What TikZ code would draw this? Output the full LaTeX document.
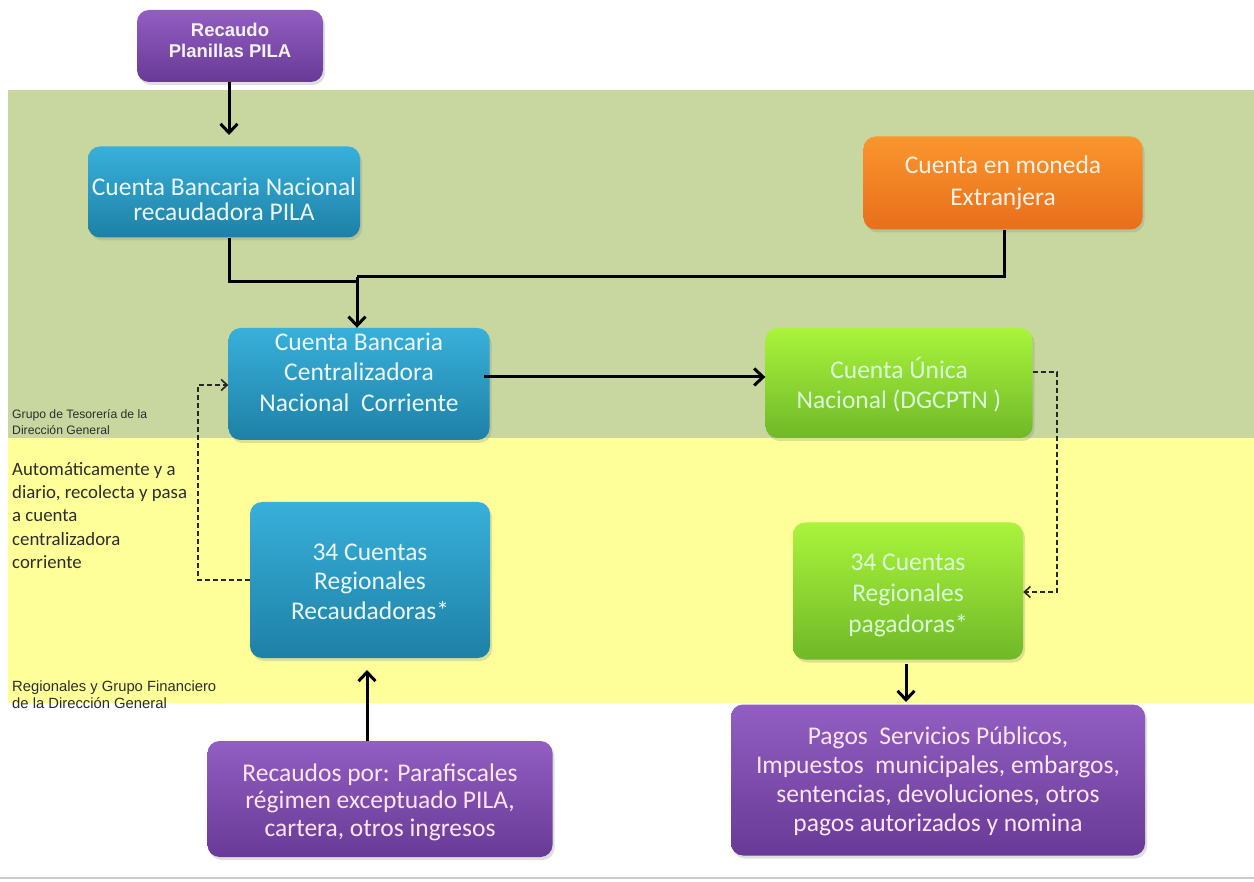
\documentclass[tikz,border=0pt]{standalone}
\usepackage{fontspec}
\setmainfont{Carlito}
\newfontfamily\arialf{Liberation Sans}
\usetikzlibrary{arrows.meta,shadows}
\definecolor{bandgreen}{RGB}{200,215,160}
\definecolor{bandyellow}{RGB}{255,255,153}
\definecolor{bluetop}{RGB}{56,176,218}
\definecolor{bluebot}{RGB}{30,128,166}
\definecolor{greentop}{RGB}{170,244,60}
\definecolor{greenbot}{RGB}{112,184,40}
\definecolor{orangetop}{RGB}{250,150,45}
\definecolor{orangebot}{RGB}{232,110,28}
\definecolor{purpletop}{RGB}{146,94,194}
\definecolor{purplebot}{RGB}{104,58,150}
\definecolor{labelgray}{RGB}{45,45,45}
\newcommand\boxtext[3]{\fontsize{25.5}{#2}\selectfont\raisebox{#1}[\height][\depth]{\begin{tabular}{@{}c@{}}#3\end{tabular}}}
\tikzset{
  x=1pt,y=-1pt,
  box/.style={rounded corners=12pt, inner sep=0pt,
    drop shadow={shadow xshift=2pt, shadow yshift=-3pt, opacity=0.25}},
  bluebox/.style={box, top color=bluetop, bottom color=bluebot, text=white!92!cyan},
  greenbox/.style={box, top color=greentop, bottom color=greenbot, text=white!85!green},
  orangebox/.style={box, top color=orangetop, bottom color=orangebot, text=white!90!orange},
  purplebox/.style={box, top color=purpletop, bottom color=purplebot, text=white!90!magenta},
  flow/.style={draw=black, line width=3pt, -{Straight Barb[length=9pt,width=17pt,line width=3pt]}},
  flowline/.style={draw=black, line width=3pt},
  dflow/.style={draw=black!85, line width=1.8pt, dash pattern=on 5pt off 3pt, -{Straight Barb[length=6pt,width=11pt,line width=1.6pt]}},
  sidelabel/.style={anchor=north west, align=left, text=labelgray, inner sep=0pt},
}
\begin{document}
\begin{tikzpicture}
\useasboundingbox (0,0) rectangle (1254,882);
\fill[white] (0,0) rectangle (1254,882);
% bands
\fill[bandgreen] (8,90) rectangle (1254,438);
\fill[bandyellow] (8,438) rectangle (1254,703);
\draw[black!20, line width=1.5pt] (0,878) -- (1254,878);

% nodes
\node[purplebox, minimum width=186pt, minimum height=72pt, text=white!95!black] (rec) at (230,46) {\arialf\bfseries\fontsize{18.5}{21}\selectfont\raisebox{3pt}[\height][\depth]{\begin{tabular}{@{}c@{}}Recaudo\\Planillas PILA\end{tabular}}};
\node[bluebox, minimum width=272pt, minimum height=91pt] (pila) at (224,192) {\boxtext{-11pt}{25}{Cuenta Bancaria Nacional\\recaudadora PILA}};
\node[orangebox, minimum width=279pt, minimum height=93pt] (ext) at (1003,183) {\boxtext{0pt}{32}{Cuenta en moneda\\Extranjera}};
\node[bluebox, minimum width=261pt, minimum height=112pt] (cen) at (359,384) {\boxtext{9.5pt}{30.5}{Cuenta Bancaria\\Centralizadora\\Nacional\ \ Corriente}};
\node[greenbox, minimum width=267pt, minimum height=110pt] (uni) at (899,383) {\boxtext{-4pt}{30}{Cuenta Única\\Nacional (DGCPTN )}};
\node[bluebox, minimum width=240pt, minimum height=156pt] (rr) at (370,580) {\boxtext{-4pt}{29.5}{34 Cuentas\\Regionales\\Recaudadoras*}};
\node[greenbox, minimum width=230pt, minimum height=137pt] (rp) at (908,591) {\boxtext{-4pt}{31}{34 Cuentas\\Regionales\\pagadoras*}};
\node[purplebox, minimum width=414pt, minimum height=151pt] (pagos) at (938,780) {\boxtext{-2pt}{29}{Pagos\ \ Servicios Públicos,\\Impuestos\ \ municipales, embargos,\\sentencias, devoluciones, otros\\pagos autorizados y nomina}};
\node[purplebox, minimum width=345pt, minimum height=116pt] (recs) at (380,799) {\boxtext{-4pt}{27.5}{Recaudos por: Parafiscales\\régimen exceptuado PILA,\\cartera, otros ingresos}};

% side labels
\node[sidelabel, font=\arialf\fontsize{12.2}{16.5}\selectfont] (lab1) at (12,409) {Grupo de Tesorería de la\\Dirección General};
\node[sidelabel, font=\fontsize{18.8}{23.3}\selectfont] (lab2) at (12,462) {Automáticamente y a\\diario, recolecta y pasa\\a cuenta\\centralizadora\\corriente};
\node[sidelabel, font=\arialf\fontsize{14.8}{17}\selectfont] (lab3) at (12,681) {Regionales y Grupo Financiero\\de la Dirección General};

% connectors
\coordinate (j) at (357,280);
\coordinate (jl) at (229,282);
\coordinate (jr) at (1004,277);
\coordinate (ra) at (229,135);
\coordinate (ua) at (484,377);
\coordinate (ca) at (198,385);
\coordinate (pa) at (1057,592);
\coordinate (pg) at (906,702);
\coordinate (rg) at (367,670);
\draw[flow] (rec.south -| ra) -- (ra);
\draw[flowline] (pila.south -| jl) -- (jl) -- (jl -| j);
\draw[flowline] (ext.south -| jr) -- (jr) -- (jr -| j);
\draw[flow] (j |- jr) -- (j |- cen.north);
\draw[flow] (ua) -- (uni.west |- ua);
\coordinate (dl) at (198,580);
\draw[dflow] (rr.west |- dl) -- (dl) -- (ca) -- (cen.west |- ca);
\coordinate (dr) at (1057,372);
\draw[dflow] (uni.east |- dr) -- (dr) -- (pa) -- (rp.east |- pa);
\draw[flow] (rp.south -| pg) ++(0,4) -- (pg);
\draw[flow] (recs.north -| rg) -- (rg);
\end{tikzpicture}
\end{document}
